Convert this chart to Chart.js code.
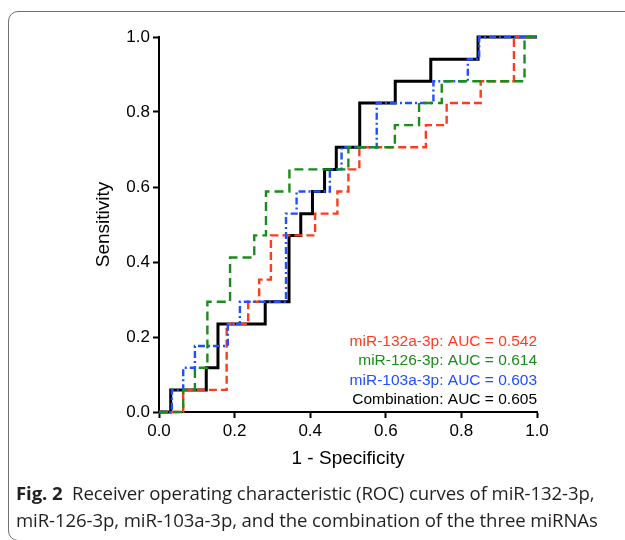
<!DOCTYPE html>
<html>
<head>
<meta charset="utf-8">
<script src="https://cdn.jsdelivr.net/npm/chart.js@4.4.1/dist/chart.umd.min.js"></script>
<style>
  body { margin: 0; background: #fff; width: 625px; height: 540px; overflow: hidden; position: relative; }
  #frame { position: absolute; left: 8px; top: 11px; width: 700px; height: 530px; border: 1.3px solid #707070; border-radius: 10px; box-sizing: border-box; }
  #wrap { position: absolute; left: 0; top: 0; width: 625px; height: 480px; }
  #caption { position: absolute; left: 16px; top: 479px; font-family: "Open Sans", sans-serif; font-size: 18.6px; line-height: 27px; color: #231f20; white-space: nowrap; letter-spacing: -0.1px; }
  #caption b { font-weight: 700; }
</style>
</head>
<body>
<div id="frame"></div>
<div id="wrap"><canvas id="roc"></canvas></div>
<div id="caption"><b>Fig. 2</b>&nbsp; Receiver operating characteristic (ROC) curves of miR-132-3p,<br>miR-126-3p, miR-103a-3p, and the combination of the three miRNAs</div>
<script>
// axis ticks
const xTicks = [0, 0.2, 0.4, 0.6, 0.8, 1.0];
const yTicks = [0, 0.2, 0.4, 0.6, 0.8, 1.0];

// ROC points (1 - specificity, sensitivity), one point per step
const redFpr = [0, 0.064, 0.179, 0.236, 0.265, 0.296, 0.413, 0.472, 0.501, 0.530, 0.706, 0.761, 0.851, 0.939, 1];
const redTpr = [0, 0.059, 0.235, 0.294, 0.353, 0.471, 0.529, 0.588, 0.647, 0.706, 0.765, 0.824, 0.882, 1, 1];

const greenFpr = [0, 0.064, 0.095, 0.128, 0.188, 0.252, 0.283, 0.345, 0.501, 0.624, 0.688, 0.748, 0.967, 1];
const greenTpr = [0, 0.059, 0.118, 0.294, 0.412, 0.471, 0.588, 0.647, 0.706, 0.765, 0.824, 0.882, 1, 1];

const blueFpr = [0, 0.034, 0.064, 0.095, 0.182, 0.214, 0.336, 0.364, 0.452, 0.483, 0.576, 0.726, 0.817, 0.847, 1];
const blueTpr = [0, 0.059, 0.118, 0.176, 0.235, 0.294, 0.529, 0.588, 0.647, 0.706, 0.824, 0.882, 0.941, 1, 1];

const combFpr = [0, 0.031, 0.125, 0.156, 0.281, 0.344, 0.375, 0.406, 0.438, 0.469, 0.531, 0.625, 0.719, 0.844, 1];
const combTpr = [0, 0.059, 0.118, 0.235, 0.294, 0.471, 0.529, 0.588, 0.647, 0.706, 0.824, 0.882, 0.941, 1, 1];

const names = ["miR-132a-3p", "miR-126-3p", "miR-103a-3p", "Combination"];
const aucs = ["0.542", "0.614", "0.603", "0.605"];
const colors = ["#ff3b1f", "#1a8c1a", "#1f4fff", "#000000"];

const toPoints = (xs, ys) => xs.map((x, i) => ({ x: x, y: ys[i] }));

// AUC labels in the lower right of the plot
const aucLegend = {
    id: "aucLegend",
    afterDatasetsDraw(chart) {
        const { ctx, chartArea } = chart;
        ctx.save();
        ctx.font = '15.5px "Liberation Sans", Arial, sans-serif';
        ctx.textAlign = "right";
        ctx.textBaseline = "middle";
        for (let i = 0; i < names.length; i++) {
            ctx.fillStyle = colors[i];
            const y = chartArea.bottom - 12 - (names.length - 1 - i) * 19.4;
            ctx.fillText(names[i] + ": AUC = " + aucs[i], chartArea.right, y);
        }
        ctx.restore();
    }
};

const tickFont = { family: '"Liberation Sans", Arial, sans-serif', size: 17 };
const titleFont = { family: '"Liberation Sans", Arial, sans-serif', size: 19 };

const ctx = document.getElementById("roc").getContext("2d");
new Chart(ctx, {
    type: "line",
    data: {
        datasets: [
            { label: names[0], data: toPoints(redFpr, redTpr), borderColor: colors[0], borderWidth: 2.4, borderDash: [8, 4], order: 2 },
            { label: names[1], data: toPoints(greenFpr, greenTpr), borderColor: colors[1], borderWidth: 2.4, borderDash: [9, 5], order: 0 },
            { label: names[2], data: toPoints(blueFpr, blueTpr), borderColor: colors[2], borderWidth: 2.4, borderDash: [7, 3, 2, 3], order: 1 },
            { label: names[3], data: toPoints(combFpr, combTpr), borderColor: colors[3], borderWidth: 3, order: 3 }
        ]
    },
    options: {
        responsive: true,
        maintainAspectRatio: false,
        animation: false,
        datasets: { line: { stepped: "before", pointRadius: 0, fill: false, clip: false, tension: 0 } },
        layout: { padding: { left: 0, right: 88, top: 37, bottom: 0 } },
        plugins: { legend: { display: false }, tooltip: { enabled: false } },
        scales: {
            x: {
                type: "linear", min: 0, max: 1,
                afterBuildTicks: s => { s.ticks = xTicks.map(v => ({ value: v })); },
                afterFit: s => { s.height = 68; },
                ticks: { color: "#000", font: tickFont, padding: 3, maxRotation: 0, callback: v => v.toFixed(1) },
                grid: { drawOnChartArea: false, drawTicks: true, tickLength: 6, tickWidth: 2, tickColor: "#000" },
                border: { display: true, color: "#000", width: 2 },
                title: { display: true, text: "1 - Specificity", color: "#000", font: titleFont, padding: { top: 0, bottom: 9.6 } }
            },
            y: {
                type: "linear", min: 0, max: 1,
                afterBuildTicks: s => { s.ticks = yTicks.map(v => ({ value: v })); },
                afterFit: s => { s.width = 159; },
                ticks: { color: "#000", font: tickFont, padding: 3, callback: v => v.toFixed(1) },
                grid: { drawOnChartArea: false, drawTicks: true, tickLength: 6, tickWidth: 2, tickColor: "#000" },
                border: { display: true, color: "#000", width: 2 },
                title: { display: true, text: "Sensitivity", color: "#000", font: titleFont, padding: { top: 92.6, bottom: 0 } }
            }
        }
    },
    plugins: [aucLegend]
});
</script>
</body>
</html>
